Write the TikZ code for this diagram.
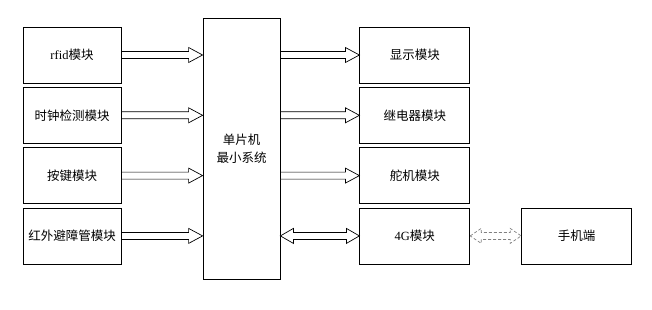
\documentclass[tikz,border=0pt]{standalone}
\usepackage{fontspec}
\setmainfont{Liberation Serif}
\newfontfamily\cjk{Noto Sans CJK SC}
\usetikzlibrary{positioning, calc}

% hollow block arrows between boxes
\newcommand{\fatarrow}[3][]{%
  \draw[fat,#1] let \p1=(#2), \p2=(#3) in
    (\x1,\y1+3.5) -- (\x2-14,\y1+3.5) -- (\x2-14,\y1+7.5) -- (\x2,\y1)
    -- (\x2-14,\y1-7.5) -- (\x2-14,\y1-3.5) -- (\x1,\y1-3.5) -- cycle;}
\newcommand{\dblarrow}[4][]{%
  \draw[fat,#1] let \p1=(#2), \p2=(#3) in
    (\x1,\y1) -- (\x1+#4,\y1+7.5) -- (\x1+#4,\y1+3.5) -- (\x2-#4,\y1+3.5)
    -- (\x2-#4,\y1+7.5) -- (\x2,\y1) -- (\x2-#4,\y1-7.5) -- (\x2-#4,\y1-3.5)
    -- (\x1+#4,\y1-3.5) -- (\x1+#4,\y1-7.5) -- cycle;}

\begin{document}
\begin{tikzpicture}[x=1pt,y=-1pt,
  box/.style={draw,line width=0.8pt,minimum width=98pt,minimum height=56pt,
    inner sep=0pt,font=\fontsize{12.5pt}{18pt}\selectfont,align=center},
  wide/.style={box,minimum width=110pt},
  mcu/.style={box,minimum width=77pt,minimum height=261pt},
  fat/.style={draw,line width=0.7pt,fill=white,line join=miter}]
  \useasboundingbox (0,0) rectangle (652,309);
  % input side
  \node[box] (rfid) at (72,55) {rfid\cjk 模块};
  \node[box,below=3.5pt of rfid] (clock) {\cjk 时钟检测模块};
  \node[box,below=3.5pt of clock] (keys) {\cjk 按键模块};
  \node[box,below=3.5pt of keys] (ir) {\cjk 红外避障管模块};
  % controller
  \node[mcu] (mcu) at (241.5,148.5) {\cjk 单片机\\\cjk 最小系统};
  % output side
  \node[wide,anchor=west,xshift=79pt] (disp) at (mcu.east |- rfid) {\cjk 显示模块};
  \node[wide,below=3.5pt of disp] (relay) {\cjk 继电器模块};
  \node[wide,below=3.5pt of relay] (servo) {\cjk 舵机模块};
  \node[wide,below=3.5pt of servo] (g4) {4G\cjk 模块};
  \node[wide,right=51pt of g4] (phone) {\cjk 手机端};
  % links
  \fatarrow{rfid.east}{rfid -| mcu.west}
  \fatarrow{clock.east}{clock -| mcu.west}
  \fatarrow{keys.east}{keys -| mcu.west}
  \fatarrow{ir.east}{ir -| mcu.west}
  \fatarrow{mcu.east |- disp}{disp.west}
  \fatarrow{mcu.east |- relay}{relay.west}
  \fatarrow{mcu.east |- servo}{servo.west}
  \dblarrow{mcu.east |- g4}{g4.west}{13}
  \dblarrow[draw=gray,dash pattern=on 3pt off 2pt]{g4.east}{phone.west}{11}
\end{tikzpicture}
\end{document}
